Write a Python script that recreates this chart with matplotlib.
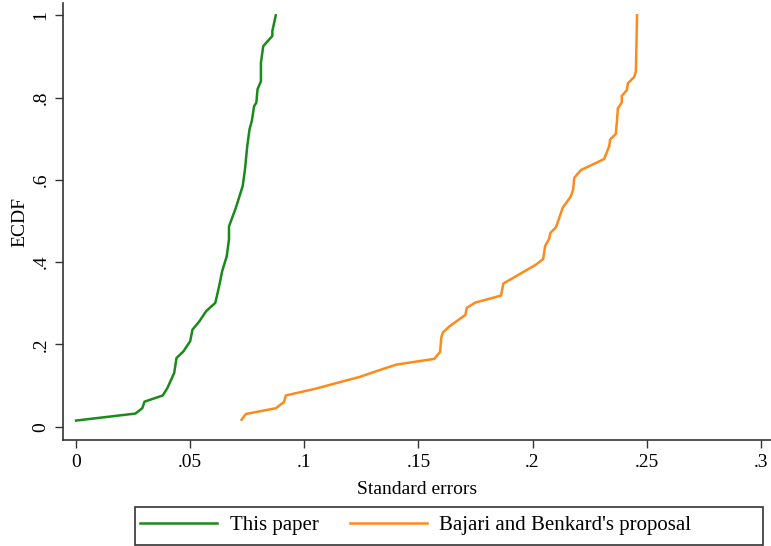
import numpy as np
import matplotlib
matplotlib.use("Agg")
import matplotlib.pyplot as plt
from matplotlib.ticker import FuncFormatter
from matplotlib.patches import Rectangle

# ECDF points
this_paper_se = [0.000, 0.026, 0.029, 0.030, 0.038, 0.040, 0.043, 0.044, 0.047, 0.050,
                 0.051, 0.054, 0.057, 0.061, 0.062, 0.063, 0.064, 0.066, 0.067, 0.067,
                 0.070, 0.073, 0.074, 0.075, 0.076, 0.077, 0.078, 0.079, 0.0795, 0.081,
                 0.081, 0.082, 0.086, 0.086, 0.0875]
this_paper_ecdf = [0.015, 0.032, 0.045, 0.061, 0.076, 0.094, 0.131, 0.167, 0.183, 0.208,
                   0.236, 0.256, 0.281, 0.301, 0.325, 0.350, 0.378, 0.414, 0.455, 0.487,
                   0.532, 0.585, 0.625, 0.682, 0.723, 0.743, 0.779, 0.788, 0.820, 0.840,
                   0.885, 0.925, 0.950, 0.962, 1.000]

bb_se = [0.0725, 0.0744, 0.0875, 0.0911, 0.0919, 0.1046, 0.1140, 0.1242, 0.1315, 0.1403,
         0.1570, 0.1595, 0.1600, 0.1607, 0.1636, 0.1706, 0.1712, 0.1750, 0.1811, 0.1862,
         0.1872, 0.2015, 0.2047, 0.2055, 0.2073, 0.2078, 0.2103, 0.2132, 0.2168, 0.2178,
         0.2183, 0.2212, 0.2270, 0.2314, 0.2336, 0.2340, 0.2365, 0.2370, 0.2374, 0.2391,
         0.2391, 0.2413, 0.2418, 0.2445, 0.2453, 0.2455, 0.2458]
bb_ecdf = [0.017, 0.031, 0.045, 0.060, 0.076, 0.092, 0.106, 0.121, 0.135, 0.151,
           0.165, 0.182, 0.216, 0.229, 0.244, 0.272, 0.289, 0.302, 0.311, 0.319,
           0.348, 0.394, 0.408, 0.439, 0.457, 0.471, 0.485, 0.532, 0.560, 0.577,
           0.605, 0.624, 0.639, 0.651, 0.682, 0.698, 0.712, 0.743, 0.774, 0.788,
           0.804, 0.818, 0.835, 0.850, 0.864, 0.917, 1.000]

x_ticks = [0, 0.05, 0.1, 0.15, 0.2, 0.25, 0.3]
y_ticks = [0, 0.2, 0.4, 0.6, 0.8, 1]

plt.rcParams['font.family'] = ['Liberation Serif', 'DejaVu Serif']

def stata_fmt(v, pos):
    s = ('%g' % round(v, 4))
    if s.startswith('0.'):
        s = s[1:]
    return s

fig = plt.figure(figsize=(7.71, 5.46), dpi=100)
ax = fig.add_axes([0.0821, 0.1941, 0.9179, 0.8004])

ax.plot(this_paper_se, this_paper_ecdf, color='#1a8a1a', lw=1.8, label='This paper')
ax.plot(bb_se, bb_ecdf, color='#ff8a1c', lw=1.8, label="Bajari and Benkard's proposal")

ax.set_xlim(-0.0056, 0.3045)
ax.set_ylim(-0.0323, 1.030)
ax.set_xticks(x_ticks)
ax.set_yticks(y_ticks)
ax.xaxis.set_major_formatter(FuncFormatter(stata_fmt))
ax.yaxis.set_major_formatter(FuncFormatter(stata_fmt))
ax.tick_params(axis='both', direction='out', length=6, width=1, color='#333333',
               labelsize=14, pad=4)
for lab in ax.get_yticklabels():
    lab.set_rotation(90)
    lab.set_va('center')

for s in ['top', 'right']:
    ax.spines[s].set_visible(False)
for s in ['left', 'bottom']:
    ax.spines[s].set_color('#333333')
    ax.spines[s].set_linewidth(1.2)

ax.set_xlabel('Standard errors', fontsize=14, labelpad=7)
ax.set_ylabel('ECDF', fontsize=14, labelpad=3)

# legend box drawn separately so it can be wider than its content (Stata style)
fig.patches.append(Rectangle((135 / 771, 1 / 546), 628 / 771, 38 / 546,
                             transform=fig.transFigure, fill=False,
                             edgecolor='#333333', linewidth=1.2))
leg = fig.legend(loc='center left', bbox_to_anchor=(140 / 771, 21 / 546),
                 ncol=2, fontsize=15, frameon=False, handlelength=3.7,
                 handletextpad=0.6, columnspacing=1.5, borderaxespad=0.0,
                 borderpad=0.0)

fig.savefig('out.png', dpi=100)
